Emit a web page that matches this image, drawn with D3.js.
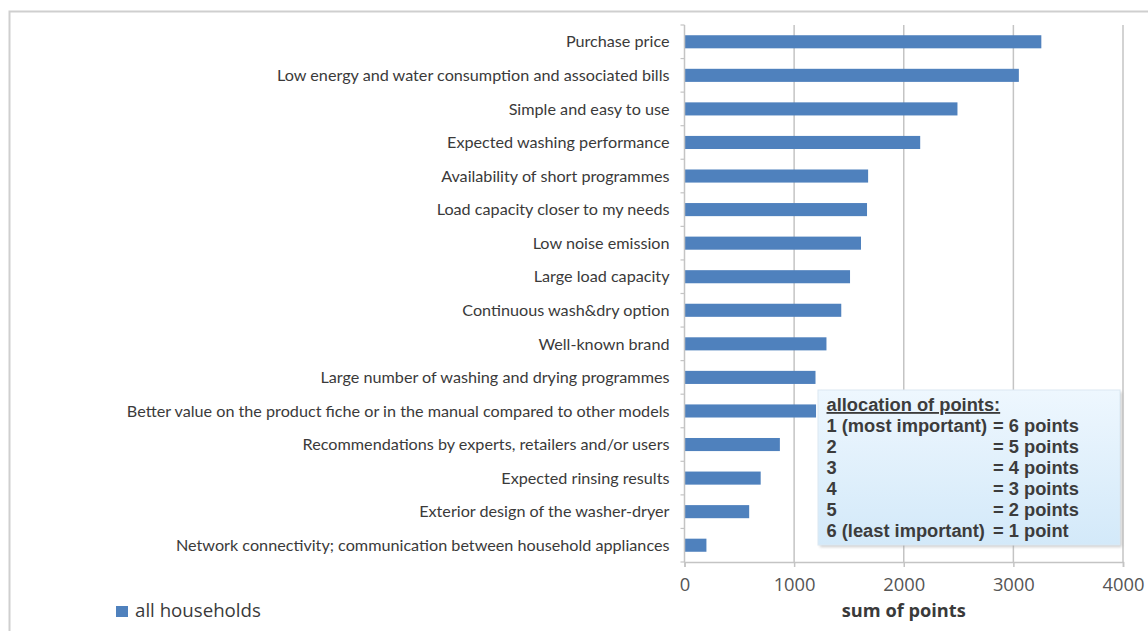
<!DOCTYPE html>
<html>
<head>
  <script src="https://cdn.jsdelivr.net/npm/d3@7"></script>
  <style>
    body { margin: 0; background: #fff; }
  </style>
</head>
<body>
  <main id="container"></main>
  <script>
    const categories = [
      "Purchase price",
      "Low energy and water consumption and associated bills",
      "Simple and easy to use",
      "Expected washing performance",
      "Availability of short programmes",
      "Load capacity closer to my needs",
      "Low noise emission",
      "Large load capacity",
      "Continuous wash&dry option",
      "Well-known brand",
      "Large number of washing and drying programmes",
      "Better value on the product fiche or in the manual compared to other models",
      "Recommendations by experts, retailers and/or users",
      "Expected rinsing results",
      "Exterior design of the washer-dryer",
      "Network connectivity; communication between household appliances"
    ]
    const points = [3255, 3050, 2490, 2150, 1675, 1665, 1610, 1510, 1430, 1295, 1195, 1200, 870, 695, 590, 200]
    const xTicks = [0, 1000, 2000, 3000, 4000]
    const seriesName = "all households"
    const xTitle = "sum of points"
    const noteTitle = "allocation of points:"
    const noteLeft = ["1 (most important)", "2", "3", "4", "5", "6 (least important)"]
    const noteRight = ["= 6 points", "= 5 points", "= 4 points", "= 3 points", "= 2 points", "= 1 point"]

    const width = 1148
    const height = 631
    const plotLeft = 684.5, plotRight = 1123, plotTop = 25, plotBottom = 562
    const barColor = "#4f81bd"
    const gridColor = "#c4c4c4"
    const labelFont = "Lato, 'Open Sans', sans-serif"
    const axisFont = "'Open Sans', Lato, sans-serif"

    // scale a text's font size so it spans the width seen in the reference
    const fitWidth = (sel, target) => {
      const size = +sel.attr("font-size")
      const w = d3.max(sel.nodes(), n => n.getComputedTextLength())
      sel.attr("font-size", size * target / w)
    }

    const svg = d3.select("#container")
      .append("svg")
      .attr("width", width)
      .attr("height", height)

    const defs = svg.append("defs")
    const grad = defs.append("linearGradient")
      .attr("id", "noteFill").attr("x1", 0).attr("y1", 0).attr("x2", 0).attr("y2", 1)
    grad.append("stop").attr("offset", "0%").attr("stop-color", "#eef7fe")
    grad.append("stop").attr("offset", "100%").attr("stop-color", "#d3e9f9")
    const blur = defs.append("filter").attr("id", "shadow")
      .attr("x", "-5%").attr("y", "-5%").attr("width", "115%").attr("height", "120%")
    blur.append("feGaussianBlur").attr("stdDeviation", 1.5)

    // outer frame
    svg.append("path")
      .attr("d", `M9.5,${height + 5} V11.5 H${width + 5}`)
      .attr("fill", "none")
      .attr("stroke", "#cfcfcf")
      .attr("stroke-width", 2)

    // scales
    const x = d3.scaleLinear()
      .domain([0, 4000])
      .range([plotLeft, plotRight])

    const y = d3.scaleBand()
      .domain(categories)
      .range([plotTop, plotBottom])
      .paddingInner(0.61)
      .paddingOuter(0.305)

    // gridlines
    svg.append("g")
      .selectAll("line")
      .data(xTicks.slice(1))
      .join("line")
      .attr("x1", d => x(d)).attr("x2", d => x(d))
      .attr("y1", plotTop).attr("y2", plotBottom)
      .attr("stroke", gridColor)
      .attr("stroke-width", 1.5)

    // bars
    svg.append("g")
      .selectAll("rect")
      .data(categories)
      .join("rect")
      .attr("x", x(0))
      .attr("y", d => y(d))
      .attr("width", (d, i) => x(points[i]) - x(0))
      .attr("height", y.bandwidth())
      .attr("fill", barColor)

    // left axis with ticks at band boundaries
    const boundaries = d3.range(categories.length + 1).map(i => plotTop + i * (plotBottom - plotTop) / categories.length)
    const yAxis = svg.append("g")
    yAxis.append("line")
      .attr("x1", plotLeft).attr("x2", plotLeft)
      .attr("y1", plotTop).attr("y2", plotBottom)
      .attr("stroke", gridColor).attr("stroke-width", 1.5)
    yAxis.selectAll("line.tick")
      .data(boundaries)
      .join("line")
      .attr("class", "tick")
      .attr("x1", plotLeft - 4).attr("x2", plotLeft)
      .attr("y1", d => d).attr("y2", d => d)
      .attr("stroke", gridColor).attr("stroke-width", 1.2)

    const labels = yAxis.selectAll("text")
      .data(categories)
      .join("text")
      .attr("x", plotLeft - 15)
      .attr("y", d => y(d) + y.bandwidth() / 2)
      .attr("dy", "0.35em")
      .attr("text-anchor", "end")
      .attr("font-family", labelFont)
      .attr("font-size", 13)
      .attr("fill", "#3a3a3a")
      .text(d => d)
    fitWidth(labels, 543)

    // bottom axis
    const xAxis = svg.append("g")
      .attr("transform", `translate(0,${plotBottom})`)
      .call(d3.axisBottom(x).tickValues(xTicks).tickSize(5).tickPadding(11).tickFormat(d3.format("d")))
    xAxis.select(".domain").attr("stroke", gridColor).attr("stroke-width", 1.5)
    xAxis.selectAll(".tick line").attr("stroke", gridColor).attr("stroke-width", 1.5)
    const tickText = xAxis.selectAll(".tick text")
      .attr("font-family", axisFont)
      .attr("font-size", 15)
      .attr("fill", "#555")
    fitWidth(tickText, 42)

    const title = svg.append("text")
      .attr("x", x(2000))
      .attr("y", 617)
      .attr("text-anchor", "middle")
      .attr("font-family", axisFont)
      .attr("font-size", 15)
      .attr("font-weight", "bold")
      .attr("fill", "#3a3a3a")
      .text(xTitle)
    fitWidth(title, 124)

    // legend
    svg.append("rect")
      .attr("x", 116).attr("y", 606).attr("width", 12).attr("height", 11)
      .attr("fill", barColor)
    const legendText = svg.append("text")
      .attr("x", 135).attr("y", 617)
      .attr("font-family", axisFont)
      .attr("font-size", 15)
      .attr("fill", "#3a3a3a")
      .text(seriesName)
    fitWidth(legendText, 126)

    // allocation note box
    const note = svg.append("g").attr("transform", "translate(818,390)")
    note.append("rect")
      .attr("x", 2).attr("y", 2).attr("width", 302).attr("height", 155)
      .attr("fill", "#9a9a9a").attr("opacity", 0.5)
      .attr("filter", "url(#shadow)")
    note.append("rect")
      .attr("width", 302).attr("height", 155)
      .attr("fill", "url(#noteFill)")
      .attr("stroke", "#dbe8f2").attr("stroke-width", 1)

    const noteFont = "'Liberation Sans', Arial, sans-serif"
    const noteSize = 18.3
    note.append("text")
      .attr("x", 8.5).attr("y", 21)
      .attr("font-family", noteFont)
      .attr("font-size", noteSize)
      .attr("font-weight", "bold")
      .attr("fill", "#3c3c3c")
      .attr("text-decoration", "underline")
      .text(noteTitle)
    note.selectAll("text.left")
      .data(noteLeft)
      .join("text")
      .attr("class", "left")
      .attr("x", 8.5)
      .attr("y", (d, i) => 42 + i * 20.9)
      .attr("font-family", noteFont)
      .attr("font-size", noteSize)
      .attr("font-weight", "bold")
      .attr("fill", "#3c3c3c")
      .text(d => d)
    note.selectAll("text.right")
      .data(noteRight)
      .join("text")
      .attr("class", "right")
      .attr("x", 175)
      .attr("y", (d, i) => 42 + i * 20.9)
      .attr("font-family", noteFont)
      .attr("font-size", noteSize)
      .attr("font-weight", "bold")
      .attr("fill", "#3c3c3c")
      .text(d => d)
  </script>
</body>
</html>
